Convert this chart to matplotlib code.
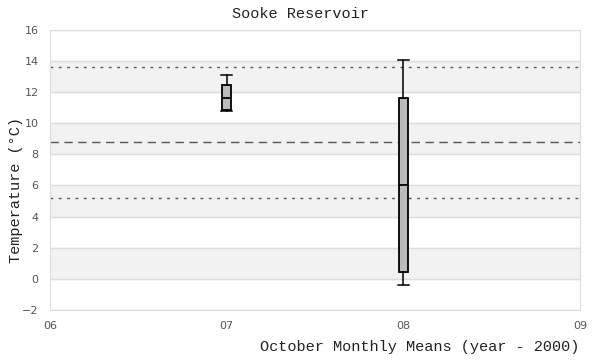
import matplotlib.pyplot as plt

# October monthly mean temperatures, Sooke Reservoir (box summaries)
years = [7, 8]
whisker_low = [10.8, -0.4]
q1 = [10.85, 0.45]
median = [11.6, 6.0]
q3 = [12.45, 11.6]
whisker_high = [13.1, 14.05]

# reference lines
upper_line = 13.6
mean_line = 8.8
lower_line = 5.2

xticks = [6, 7, 8, 9]
xticklabels = ['06', '07', '08', '09']
yticks = [-2, 0, 2, 4, 6, 8, 10, 12, 14, 16]

mono = ['Liberation Mono', 'DejaVu Sans Mono']

fig = plt.figure(figsize=(6, 3.6), dpi=100)
ax = fig.add_axes([0.083, 0.139, 0.884, 0.778])

# alternating bands
for lo in [0, 4, 8, 12]:
    ax.axhspan(lo, lo + 2, color='#f2f2f2', zorder=0)
for y in yticks:
    ax.axhline(y, color='#dddddd', lw=1, zorder=0.5)

ax.axhline(upper_line, color='#555555', lw=1, ls=(0, (2, 4)), zorder=1)
ax.axhline(mean_line, color='#555555', lw=1, ls=(0, (6, 4)), zorder=1)
ax.axhline(lower_line, color='#555555', lw=1, ls=(0, (2, 4)), zorder=1)

stats = []
for i in range(len(years)):
    stats.append({'med': median[i], 'q1': q1[i], 'q3': q3[i],
                  'whislo': whisker_low[i], 'whishi': whisker_high[i],
                  'fliers': []})

ax.bxp(stats, positions=years, widths=0.048, patch_artist=True,
       showfliers=False, manage_ticks=False,
       boxprops=dict(facecolor='#bbbbbb', edgecolor='black', lw=1.3),
       medianprops=dict(color='black', lw=1.3),
       whiskerprops=dict(color='black', lw=1.1),
       capprops=dict(color='black', lw=1.1),
       capwidths=0.06)

ax.set_xlim(6, 9)
ax.set_ylim(-2, 16)
ax.set_xticks(xticks)
ax.set_xticklabels(xticklabels)
ax.set_yticks(yticks)
ax.tick_params(length=0, labelsize=8, labelcolor='#555555', pad=8)
for s in ax.spines.values():
    s.set_color('#dddddd')

fig.text(0.5, 0.96, 'Sooke Reservoir', family=mono, fontsize=11,
         color='#222222', ha='center', va='center')
fig.text(0.027, 0.472, 'Temperature (°C)', family=mono, fontsize=11,
         color='#222222', ha='center', va='center', rotation=90)
fig.text(0.965, 0.035, 'October Monthly Means (year - 2000)', family=mono,
         fontsize=11, color='#222222', ha='right', va='center')

fig.savefig('out.png')
